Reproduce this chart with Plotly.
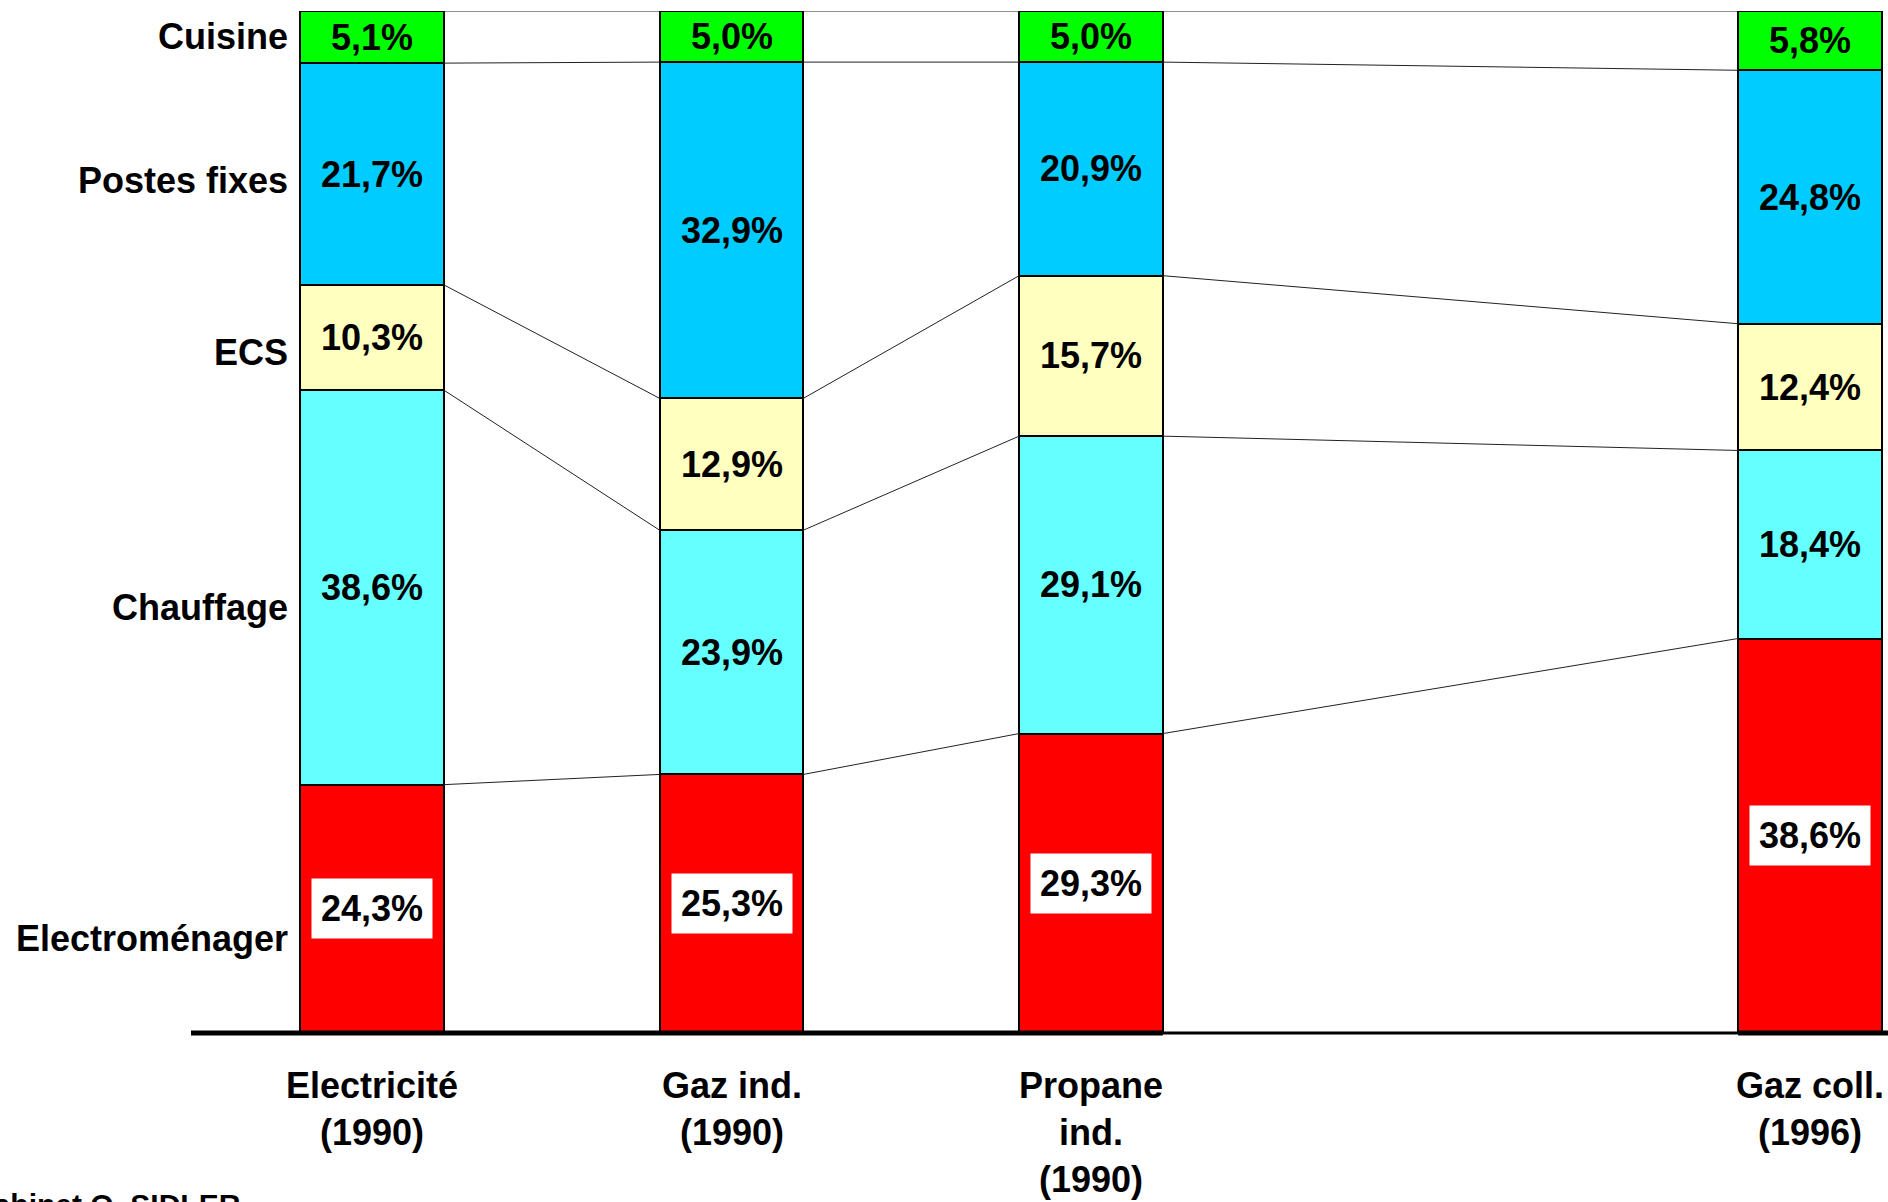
import plotly.graph_objects as go

# sources d'énergie (positions sur l'axe x : un vide avant la 4e barre)
sources = ["Electricité<br>(1990)", "Gaz ind.<br>(1990)", "Propane<br>ind.<br>(1990)", "Gaz coll.<br>(1996)"]
xpos = [0, 1, 2, 4]

# postes de consommation, du bas vers le haut
postes = ["Electroménager", "Chauffage", "ECS", "Postes fixes", "Cuisine"]
electromenager = [24.3, 25.3, 29.3, 38.6]
chauffage = [38.6, 23.9, 29.1, 18.4]
ecs = [10.3, 12.9, 15.7, 12.4]
postes_fixes = [21.7, 32.9, 20.9, 24.8]
cuisine = [5.1, 5.0, 5.0, 5.8]

series = [electromenager, chauffage, ecs, postes_fixes, cuisine]
couleurs = ["#FF0000", "#66FFFF", "#FFFFC0", "#00CCFF", "#00FF00"]

W = 0.4  # largeur des barres
FONT = dict(family="Arial, Liberation Sans, sans-serif", size=36, color="black", weight="bold")

fig = go.Figure()
for nom, vals, col in zip(postes, series, couleurs):
    fig.add_trace(go.Bar(x=xpos, y=vals, name=nom, width=W,
                         marker=dict(color=col, line=dict(color="black", width=2)),
                         hoverinfo="skip"))

# cumuls pour les étiquettes et les lignes de liaison
cumuls = []
for i in range(len(xpos)):
    c = [0]
    for s in series:
        c.append(c[-1] + s[i])
    cumuls.append(c)

annotations = []
for i, x in enumerate(xpos):
    for k, s in enumerate(series):
        ymid = (cumuls[i][k] + cumuls[i][k + 1]) / 2
        txt = ("%.1f%%" % s[i]).replace(".", ",")
        a = dict(x=x, y=ymid, xref="x", yref="y", text=txt, showarrow=False, font=FONT,
                 xanchor="center", yanchor="middle")
        if k == 0:
            a.update(bgcolor="white", borderpad=9)
        annotations.append(a)
    # libellé de la source sous l'axe
    annotations.append(dict(x=x, y=0, xref="x", yref="y", text=sources[i], showarrow=False,
                            font=FONT, xanchor="center", yanchor="top", yshift=-30))

# noms des postes à gauche
label_y = [9.2, 41.6, 66.6, 83.4, 97.5]
for nom, yy in zip(postes, label_y):
    annotations.append(dict(x=-W / 2, y=yy, xref="x", yref="y", text=nom, showarrow=False,
                            font=FONT, xanchor="right", yanchor="middle", xshift=-10))

annotations.append(dict(x=0.0306, y=-0.150, xref="paper", yref="paper", text="Cabinet O. SIDLER",
                        showarrow=False, font=dict(FONT, size=30), xanchor="right", yanchor="top"))

shapes = []
for i in range(len(xpos) - 1):
    for k in range(1, len(series) + 1):
        shapes.append(dict(type="line", xref="x", yref="y",
                           x0=xpos[i] + W / 2, y0=cumuls[i][k],
                           x1=xpos[i + 1] - W / 2, y1=cumuls[i + 1][k],
                           line=dict(color="#222222", width=1)))

# axe horizontal (yref paper pour ne pas être coupé en bas de la zone de tracé)
shapes.append(dict(type="line", xref="x", yref="paper", x0=-0.5035, x1=xpos[2] + W / 2, y0=0, y1=0,
                   line=dict(color="black", width=5)))
shapes.append(dict(type="line", xref="x", yref="paper", x0=xpos[2] + W / 2, x1=xpos[3] - W / 2, y0=0, y1=0,
                   line=dict(color="black", width=3)))
shapes.append(dict(type="line", xref="x", yref="paper", x0=xpos[3] - W / 2, x1=4.3, y0=0, y1=0,
                   line=dict(color="black", width=5)))

fig.update_layout(
    barmode="stack",
    width=1888, height=1202,
    margin=dict(l=191, r=0, t=11, b=169),
    plot_bgcolor="white", paper_bgcolor="white",
    showlegend=False,
    xaxis=dict(range=[-0.5035, 4.217], visible=False),
    yaxis=dict(range=[0, 100], visible=False),
    annotations=annotations,
    shapes=shapes,
)

fig.write_html("out.html", config={"displayModeBar": False},
               post_script="document.body.style.margin='0';")
